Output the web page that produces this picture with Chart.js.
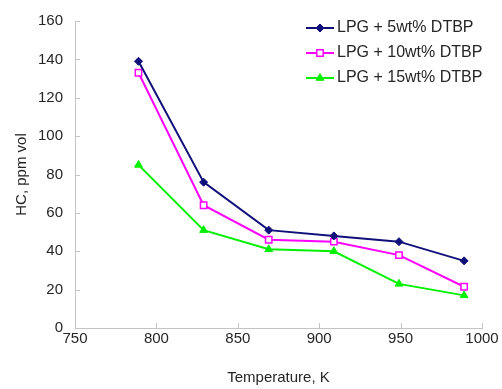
<!DOCTYPE html>
<html>
<head>
<meta charset="utf-8">
<script src="https://cdn.jsdelivr.net/npm/chart.js@4/dist/chart.umd.min.js"></script>
<style>
  html, body { margin: 0; padding: 0; background: #fff; }
  #wrap { width: 502px; height: 389px; }
</style>
</head>
<body>
<div id="wrap"><canvas id="c" width="502" height="389"></canvas></div>
<script>
// Exhaust HC concentration vs. temperature for LPG blended with DTBP
const temperatures = [789, 829, 869, 909, 949, 989];
const hcDtbp5  = [139, 76, 51, 48, 45, 35];
const hcDtbp10 = [133, 64, 46, 45, 38, 21.5];
const hcDtbp15 = [85, 51, 41, 40, 23, 17];
const seriesLabels = ['LPG + 5wt% DTBP', 'LPG + 10wt% DTBP', 'LPG + 15wt% DTBP'];
const xTicks = [750, 800, 850, 900, 950, 1000];
const yTicks = [0, 20, 40, 60, 80, 100, 120, 140, 160];

const FONT = "'Liberation Sans', Arial, Helvetica, sans-serif";
const TEXT = '#262626';
const AXIS = '#c4c4c4';

const toPoints = ys => temperatures.map((t, i) => ({ x: t, y: ys[i] }));

const datasets = [
  { label: seriesLabels[0], data: toPoints(hcDtbp5), borderColor: '#10107a', backgroundColor: '#10107a',
    pointStyle: 'rectRot', pointRadius: 4, pointBorderWidth: 1 },
  { label: seriesLabels[1], data: toPoints(hcDtbp10), borderColor: '#ff00ff', backgroundColor: '#ffffff',
    pointStyle: 'rect', pointRadius: 4.5, pointBorderWidth: 1.5 },
  { label: seriesLabels[2], data: toPoints(hcDtbp15), borderColor: '#00f000', backgroundColor: '#00f000',
    pointStyle: 'triangle', pointRadius: 4.5, pointBorderWidth: 1 }
].map(d => Object.assign({ borderWidth: 2, tension: 0, fill: false,
  pointBackgroundColor: d.backgroundColor, pointBorderColor: d.borderColor }, d));

// short tick marks pointing into the plot area
const innerTicks = {
  id: 'innerTicks',
  afterDatasetsDraw(chart) {
    const { ctx, chartArea: a } = chart;
    const xs = chart.scales.x, ys = chart.scales.y;
    ctx.save();
    ctx.strokeStyle = AXIS;
    ctx.lineWidth = 1;
    ctx.beginPath();
    xTicks.forEach(v => {
      const px = Math.round(xs.getPixelForValue(v)) + 0.5;
      ctx.moveTo(px, a.bottom);
      ctx.lineTo(px, a.bottom - 5);
    });
    yTicks.forEach(v => {
      const py = Math.round(ys.getPixelForValue(v)) + 0.5;
      ctx.moveTo(a.left, py);
      ctx.lineTo(a.left + 5, py);
    });
    ctx.stroke();
    ctx.restore();
  }
};

// legend inside the plot, each row with line segment and marker
const lineLegend = {
  id: 'lineLegend',
  afterDraw(chart) {
    const { ctx } = chart;
    const rows = [28, 53, 78];
    const x0 = 306, x1 = 334, textX = 337;
    ctx.save();
    chart.data.datasets.forEach((ds, i) => {
      const y = rows[i];
      ctx.strokeStyle = ds.borderColor;
      ctx.lineWidth = ds.borderWidth;
      ctx.beginPath();
      ctx.moveTo(x0, y);
      ctx.lineTo(x1, y);
      ctx.stroke();
      ctx.fillStyle = ds.pointBackgroundColor;
      ctx.strokeStyle = ds.pointBorderColor;
      ctx.lineWidth = ds.pointBorderWidth;
      Chart.helpers.drawPoint(ctx, { pointStyle: ds.pointStyle, rotation: 0, radius: ds.pointRadius, borderWidth: ds.pointBorderWidth }, (x0 + x1) / 2, y);
      ctx.fillStyle = TEXT;
      ctx.font = '16px ' + FONT;
      ctx.textAlign = 'left';
      ctx.textBaseline = 'middle';
      ctx.fillText(ds.label, textX, y);
    });
    ctx.restore();
  }
};

new Chart(document.getElementById('c'), {
  type: 'line',
  data: { datasets },
  options: {
    responsive: false,
    animation: false,
    devicePixelRatio: 1,
    layout: { padding: { top: 17, right: 20, bottom: 0, left: 0 } },
    plugins: { legend: { display: false }, tooltip: { enabled: false } },
    scales: {
      x: {
        type: 'linear', min: 750, max: 1000,
        afterBuildTicks: s => { s.ticks = xTicks.map(v => ({ value: v })); },
        afterFit: s => { s.height = 61; },
        grid: { display: false, drawTicks: false },
        border: { display: true, color: AXIS, width: 1 },
        ticks: { padding: 2, color: TEXT, font: { family: FONT, size: 15 }, maxRotation: 0,
                 callback: v => String(v) },
        title: { display: true, text: 'Temperature, K', color: TEXT,
                 font: { family: FONT, size: 15 }, padding: { top: 0, bottom: 2 } }
      },
      y: {
        type: 'linear', min: 0, max: 160,
        afterBuildTicks: s => { s.ticks = yTicks.map(v => ({ value: v })); },
        afterFit: s => { s.width = 75; },
        grid: { display: false, drawTicks: false },
        border: { display: true, color: AXIS, width: 1 },
        ticks: { padding: 12, color: TEXT, font: { family: FONT, size: 15 }, callback: v => String(v) },
        title: { display: true, text: 'HC, ppm vol', color: TEXT,
                 font: { family: FONT, size: 15 }, padding: { top: 13, bottom: 0 } }
      }
    }
  },
  plugins: [innerTicks, lineLegend]
});
</script>
</body>
</html>
